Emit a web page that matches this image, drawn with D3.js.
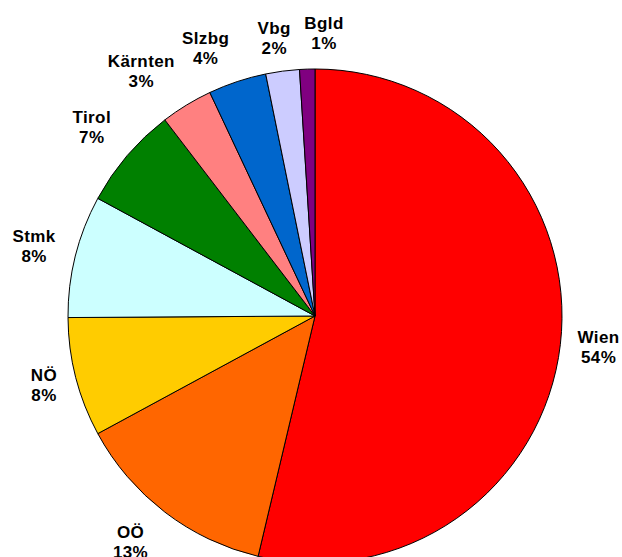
<!DOCTYPE html>
<html>
<head>
<meta charset="utf-8">
<script src="https://cdn.jsdelivr.net/npm/d3@7"></script>
<style>
  body { margin: 0; background: #fff; }
  text { font-family: "Liberation Sans", Arial, sans-serif; font-weight: bold; font-size: 17px; letter-spacing: 0.4px; fill: #000; }
</style>
</head>
<body>
<script>
// Bundesländer, Anteile in %
var laender = ["Wien", "OÖ", "NÖ", "Stmk", "Tirol", "Kärnten", "Slzbg", "Vbg", "Bgld"]
var anteile = [53.7, 13.4, 7.8, 8.0, 6.7, 3.4, 3.8, 2.2, 1.0]
var labels  = ["54%", "13%", "8%", "8%", "7%", "3%", "4%", "2%", "1%"]
var farben  = ["#FF0000", "#FF6600", "#FFCC00", "#CCFFFF", "#008000", "#FF8080", "#0066CC", "#CCCCFF", "#800080"]

var width = 622
var height = 557
var cx = 315, cy = 316, radius = 247

var svg = d3.select("body").append("svg")
    .attr("width", width)
    .attr("height", height)

var g = svg.append("g").attr("transform", "translate(" + cx + "," + cy + ")")

var pie = d3.pie().sort(null).value(function (d) { return d })
var arcs = pie(anteile)

var arc = d3.arc().innerRadius(0).outerRadius(radius)

g.selectAll("path")
    .data(arcs)
    .enter()
    .append("path")
    .attr("d", arc)
    .attr("fill", function (d, i) { return farben[i] })
    .attr("stroke", "#000")
    .attr("stroke-width", 1)

// Beschriftung außerhalb, wie in Excel etwas auseinandergeschoben
var labelArc = d3.arc().innerRadius(287).outerRadius(287)
var shift = [[-1.5, -2], [-10, -2.5], [7, -3], [-2.5, -0.5], [-5, -3], [-24.5, 0], [-19, 4], [-3, 6.5], [18, 4]]

var lab = g.selectAll("g.lab")
    .data(arcs)
    .enter()
    .append("g")
    .attr("class", "lab")
    .attr("transform", function (d, i) {
        var c = labelArc.centroid(d)
        return "translate(" + (c[0] + shift[i][0]) + "," + (c[1] + shift[i][1]) + ")"
    })

lab.append("text").attr("text-anchor", "middle").attr("y", -3.8).text(function (d, i) { return laender[i] })
lab.append("text").attr("text-anchor", "middle").attr("y", 16.2).text(function (d, i) { return labels[i] })
</script>
</body>
</html>
